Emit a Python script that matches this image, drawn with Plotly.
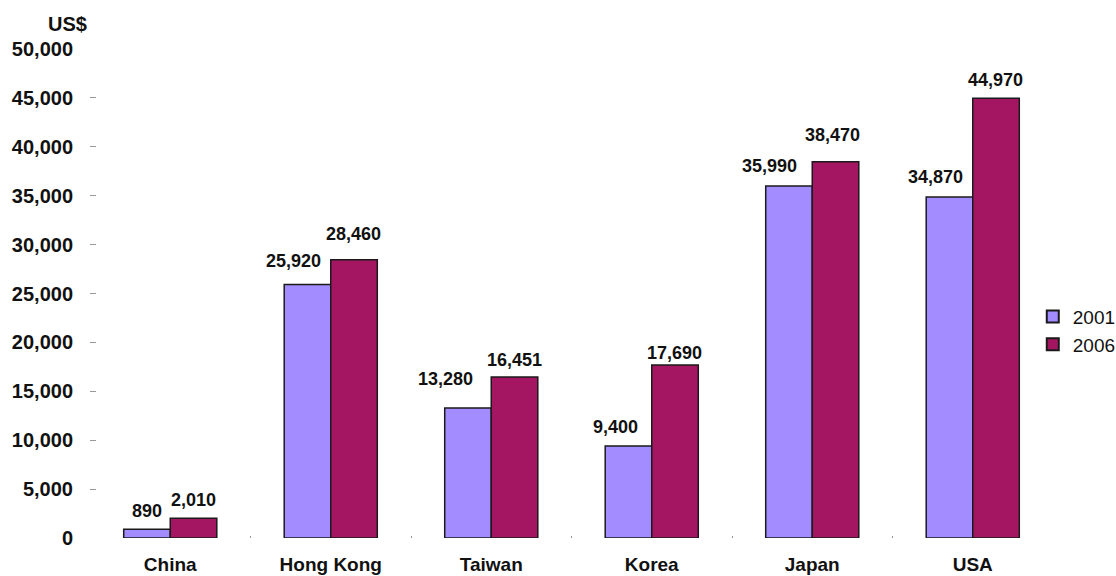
import plotly.graph_objects as go

categories = ["China", "Hong Kong", "Taiwan", "Korea", "Japan", "USA"]
vals_2001 = [890, 25920, 13280, 9400, 35990, 34870]
vals_2006 = [2010, 28460, 16451, 17690, 38470, 44970]
series_names = ["2001", "2006"]
y_ticks = [0, 5000, 10000, 15000, 20000, 25000, 30000, 35000, 40000, 45000, 50000]

# label placement tweaks (pixels): (xshift, yshift) relative to default
lab01_shift = [(0, 0), (-14, 6), (-23, 11), (-13, 1), (-20, 2), (-14, 2)]
lab06_shift = [(0, 0), (0, 8), (0, -1), (0, -6), (-3, 9), (0, 0)]

c01 = "#A28CFF"
c06 = "#A51662"
FONT = "Liberation Sans, Arial"

fig = go.Figure()
fig.add_trace(go.Bar(x=categories, y=vals_2001, name=series_names[0],
                     marker=dict(color=c01, line=dict(color="#1a1a1a", width=1.5))))
fig.add_trace(go.Bar(x=categories, y=vals_2006, name=series_names[1],
                     marker=dict(color=c06, line=dict(color="#1a1a1a", width=1.5))))

lab_font = dict(family=FONT, size=18, color="#111")
for i, c in enumerate(categories):
    dx, dy = lab01_shift[i]
    fig.add_annotation(x=c, y=vals_2001[i], text=f"<b>{vals_2001[i]:,}</b>", showarrow=False,
                       xshift=-23 + dx, yshift=6 + dy, yanchor="bottom", font=lab_font)
    dx, dy = lab06_shift[i]
    fig.add_annotation(x=c, y=vals_2006[i], text=f"<b>{vals_2006[i]:,}</b>", showarrow=False,
                       xshift=23 + dx, yshift=6 + dy, yanchor="bottom", font=lab_font)

fig.add_annotation(xref="paper", yref="paper", x=0, y=1.0, xshift=-1, yshift=12, text="<b>US$</b>",
                   showarrow=False, xanchor="right", yanchor="bottom",
                   font=dict(family=FONT, size=20, color="#111"))

fig.update_layout(
    width=1116, height=576,
    margin=dict(l=90, r=63, t=49, b=38, autoexpand=False),
    plot_bgcolor="white", paper_bgcolor="white",
    barmode="group", bargap=0.42, bargroupgap=0,
    legend=dict(x=0.979, y=0.424, xanchor="left", yanchor="middle",
                font=dict(family=FONT, size=19, color="#111"),
                itemsizing="constant", tracegroupgap=2),
    showlegend=True,
)
fig.update_yaxes(range=[0, 50000], tickvals=y_ticks,
                 ticktext=[f"<b>{v:,}</b>" for v in y_ticks],
                 showgrid=False, zeroline=False, showline=False,
                 ticks="inside", ticklen=6, tickcolor="#999",
                 ticklabelstandoff=16,
                 tickfont=dict(family=FONT, size=20, color="#111"))
fig.update_xaxes(showgrid=False, showline=False, ticks="inside", ticklen=2,
                 tickson="boundaries", tickcolor="#999",
                 tickvals=categories, ticktext=[f"<b>{c}</b>" for c in categories],
                 ticklabelstandoff=13,
                 tickfont=dict(family=FONT, size=19, color="#111"))
fig.add_shape(type="line", xref="paper", yref="paper", x0=0.9938, x1=1.07, y0=0.372, y1=0.372,
              line=dict(color="#999", width=1))

fig.write_html("out.html")
